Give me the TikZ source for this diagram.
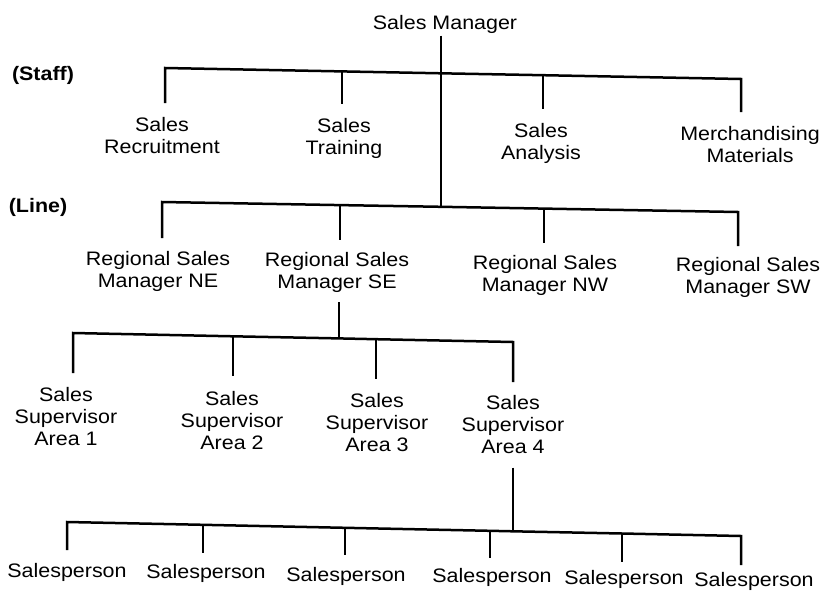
\documentclass[tikz,border=0pt]{standalone}
\usepackage{fontspec}
\setmainfont{Liberation Sans}[FakeStretch=1.1]
\begin{document}
\begin{tikzpicture}[x=1pt,y=-1pt,
  lbl/.style={font=\fontsize{19.5}{22.5}\selectfont, align=center, inner sep=0pt, anchor=north},
  tag/.style={font=\fontsize{19.5}{22.5}\selectfont\bfseries, inner sep=0pt},
  conn/.style={line width=2.5pt, line join=miter}]
\useasboundingbox (0,0) rectangle (826,594);

% nodes
\node[lbl] (sm) at (445,15) {Sales Manager};
\node[tag] (staff) at (43,75) {(Staff)};
\node[tag] (line) at (38,207) {(Line)};

\node[lbl] (rec) at (162,117) {Sales\\Recruitment};
\node[lbl] (trn) at (344,118) {Sales\\Training};
\node[lbl] (ana) at (541,123) {Sales\\Analysis};
\node[lbl] (mer) at (750,126) {Merchandising\\Materials};

\node[lbl] (ne) at (158,251) {Regional Sales\\Manager NE};
\node[lbl] (se) at (337,252) {Regional Sales\\Manager SE};
\node[lbl] (nw) at (545,255) {Regional Sales\\Manager NW};
\node[lbl] (sw) at (748,257) {Regional Sales\\Manager SW};

\node[lbl, font=\fontsize{19.5}{22}\selectfont] (a1) at (66,387) {Sales\\Supervisor\\Area 1};
\node[lbl, font=\fontsize{19.5}{22}\selectfont] (a2) at (232,391) {Sales\\Supervisor\\Area 2};
\node[lbl, font=\fontsize{19.5}{22}\selectfont] (a3) at (377,393) {Sales\\Supervisor\\Area 3};
\node[lbl, font=\fontsize{19.5}{22}\selectfont] (a4) at (513,395) {Sales\\Supervisor\\Area 4};

\node[lbl] (p1) at (67,563) {Salesperson};
\node[lbl] (p2) at (206,564) {Salesperson};
\node[lbl] (p3) at (346,567) {Salesperson};
\node[lbl] (p4) at (492,568) {Salesperson};
\node[lbl] (p5) at (624,570) {Salesperson};
\node[lbl] (p6) at (754,572) {Salesperson};

% junctions
\coordinate (sj1) at (165,68);
\coordinate (sj2) at (342,71.4);
\coordinate (sjm) at (441,73.3);
\coordinate (sj3) at (543,75.2);
\coordinate (sj4) at (741,79);

\coordinate (lj1) at (162,202);
\coordinate (lj2) at (340,205.1);
\coordinate (ljm) at (441,206.8);
\coordinate (lj3) at (544,208.6);
\coordinate (lj4) at (738,212);

\coordinate (uj1) at (73,333);
\coordinate (uj2) at (233,336.3);
\coordinate (ujm) at (339,338.4);
\coordinate (uj3) at (376,339.2);
\coordinate (uj4) at (513,342);

\coordinate (pj1) at (67,522);
\coordinate (pj2) at (203,524.8);
\coordinate (pj3) at (345,527.8);
\coordinate (pj4) at (490,530.8);
\coordinate (pjm) at (513,531.3);
\coordinate (pj5) at (622,533.5);
\coordinate (pj6) at (741,536);

% main trunk
\draw[conn, shorten <=2pt] (ljm |- sm.south) -- (ljm);

% staff
\draw[conn, shorten <=14pt, shorten >=14pt] (sj1 |- rec.north) -- (sj1) -- (sj2) -- (sjm) -- (sj3) -- (sj4) -- (sj4 |- mer.north);
\draw[conn, shorten >=14pt] (sj2) -- (sj2 |- trn.north);
\draw[conn, shorten >=14pt] (sj3) -- (sj3 |- ana.north);

% line
\draw[conn, shorten <=13pt, shorten >=11pt] (lj1 |- ne.north) -- (lj1) -- (lj2) -- (ljm) -- (lj3) -- (lj4) -- (lj4 |- sw.north);
\draw[conn, shorten >=12pt] (lj2) -- (lj2 |- se.north);
\draw[conn, shorten >=12pt] (lj3) -- (lj3 |- nw.north);

% supervisors
\draw[conn, shorten <=9pt] (ujm |- se.south) -- (ujm);
\draw[conn, shorten <=14pt, shorten >=13pt] (uj1 |- a1.north) -- (uj1) -- (uj2) -- (ujm) -- (uj3) -- (uj4) -- (uj4 |- a4.north);
\draw[conn, shorten >=15pt] (uj2) -- (uj2 |- a2.north);
\draw[conn, shorten >=14pt] (uj3) -- (uj3 |- a3.north);

% salespeople
\draw[conn, shorten <=14pt] (pjm |- a4.south) -- (pjm);
\draw[conn, shorten <=13pt, shorten >=7pt] (pj1 |- p1.north) -- (pj1) -- (pj2) -- (pj3) -- (pj4) -- (pjm) -- (pj5) -- (pj6) -- (pj6 |- p6.north);
\draw[conn, shorten >=11pt] (pj2) -- (pj2 |- p2.north);
\draw[conn, shorten >=12pt] (pj3) -- (pj3 |- p3.north);
\draw[conn, shorten >=10pt] (pj4) -- (pj4 |- p4.north);
\draw[conn, shorten >=8pt] (pj5) -- (pj5 |- p5.north);
\end{tikzpicture}
\end{document}
